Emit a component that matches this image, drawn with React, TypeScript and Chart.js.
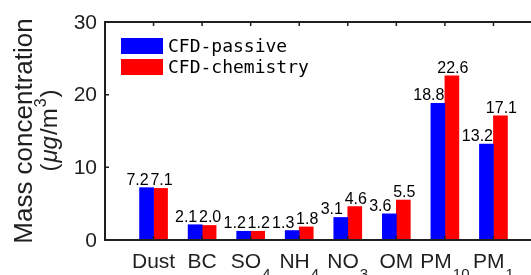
import { useEffect, useRef } from 'react';
import { Chart, registerables } from 'chart.js';

Chart.register(...registerables);

const categories = ['Dust', 'BC', 'SO', 'NH', 'NO', 'OM', 'PM', 'PM'];
const subscripts = ['', '', '4', '4', '3', '', '10', '1'];
const passive = [7.2, 2.1, 1.2, 1.3, 3.1, 3.6, 18.8, 13.2];
const chemistry = [7.1, 2.0, 1.2, 1.8, 4.6, 5.5, 22.6, 17.1];
const yTicks = [0, 10, 20, 30];
const seriesNames = ['CFD-passive', 'CFD-chemistry'];
const seriesColors = ['#0000FF', '#FF0000'];

const CANVAS_W = 560;
const CANVAS_H = 275;
const SANS = '"Liberation Sans", Arial, Helvetica, sans-serif';
const AXIS_COLOR = '#1f1f1f';

const decorPlugin = {
  id: 'decor',
  afterDatasetsDraw(chart: any) {
    const { ctx, chartArea: a, scales } = chart;
    const x = scales.x;
    const y = scales.y;
    ctx.save();

    // data labels
    ctx.font = `16px ${SANS}`;
    ctx.fillStyle = '#000';
    ctx.textAlign = 'center';
    ctx.textBaseline = 'alphabetic';
    chart.data.datasets.forEach((ds: any, di: number) => {
      const meta = chart.getDatasetMeta(di);
      meta.data.forEach((bar: any, i: number) => {
        const v = ds.data[i].y as number;
        const dx = di === 0 ? -9 : 1;
        ctx.fillText(v.toFixed(1), bar.x + dx, bar.y - 3);
      });
    });

    // axes box (left, top, bottom)
    ctx.strokeStyle = AXIS_COLOR;
    ctx.lineWidth = 2;
    ctx.beginPath();
    ctx.moveTo(a.right, a.top);
    ctx.lineTo(a.left, a.top);
    ctx.lineTo(a.left, a.bottom);
    ctx.lineTo(a.right, a.bottom);
    ctx.stroke();

    // tick marks
    ctx.lineWidth = 1.5;
    ctx.beginPath();
    categories.forEach((_, i) => {
      const px = x.getPixelForValue(i + 1);
      ctx.moveTo(px, a.top);
      ctx.lineTo(px, a.top + 4);
      ctx.moveTo(px, a.bottom);
      ctx.lineTo(px, a.bottom - 4);
    });
    yTicks.forEach((t) => {
      const py = y.getPixelForValue(t);
      ctx.moveTo(a.left, py);
      ctx.lineTo(a.left + 4, py);
    });
    ctx.stroke();

    // y tick labels
    ctx.fillStyle = AXIS_COLOR;
    ctx.font = `21px ${SANS}`;
    ctx.textAlign = 'right';
    ctx.textBaseline = 'middle';
    yTicks.forEach((t) => {
      ctx.fillText(String(t), a.left - 8, y.getPixelForValue(t) + 1);
    });

    // x labels with subscripts
    const mainFont = `21px ${SANS}`;
    const subFont = `15px ${SANS}`;
    ctx.textAlign = 'left';
    ctx.textBaseline = 'alphabetic';
    categories.forEach((c, i) => {
      const cx = x.getPixelForValue(i + 1);
      ctx.font = mainFont;
      const w1 = ctx.measureText(c).width;
      ctx.font = subFont;
      const sub = subscripts[i];
      const w2 = sub ? ctx.measureText(sub).width + 1 : 0;
      const start = cx - (w1 + w2) / 2;
      ctx.font = mainFont;
      ctx.fillText(c, start, 268);
      if (sub) {
        ctx.font = subFont;
        ctx.fillText(sub, start + w1 + 1, 279);
      }
    });

    // y title
    const cy = (a.top + a.bottom) / 2;
    ctx.save();
    ctx.translate(32, cy);
    ctx.rotate(-Math.PI / 2);
    ctx.textAlign = 'center';
    ctx.font = `26px ${SANS}`;
    ctx.fillText('Mass concentration', 0, 0);
    ctx.restore();

    ctx.save();
    ctx.translate(57, cy - 1);
    ctx.rotate(-Math.PI / 2);
    ctx.textAlign = 'left';
    const pieces: [string, string, number][] = [
      ['(', `24px ${SANS}`, 0],
      ['\u03bcg', `italic 24px ${SANS}`, 0],
      ['/m', `24px ${SANS}`, 0],
      ['3', `16px ${SANS}`, -11],
      [')', `24px ${SANS}`, 0],
    ];
    let total = 0;
    pieces.forEach(([t, f]) => {
      ctx.font = f;
      total += ctx.measureText(t).width + 1;
    });
    let px = -total / 2;
    pieces.forEach(([t, f, dy]) => {
      ctx.font = f;
      ctx.fillText(t, px, dy);
      px += ctx.measureText(t).width + 1;
    });
    ctx.restore();

    // legend
    const boxX = 121;
    const boxW = 42;
    const boxH = 16;
    const rows = [38, 59];
    ctx.font = `18px "DejaVu Sans Mono", monospace`;
    ctx.textAlign = 'left';
    ctx.textBaseline = 'middle';
    seriesNames.forEach((name, i) => {
      ctx.fillStyle = seriesColors[i];
      ctx.fillRect(boxX, rows[i], boxW, boxH);
      ctx.fillStyle = '#000';
      ctx.fillText(name, boxX + boxW + 5, rows[i] + boxH / 2 + 1);
    });

    ctx.restore();
  },
};

export default function App() {
  const ref = useRef<HTMLCanvasElement | null>(null);

  useEffect(() => {
    if (!ref.current) return;
    const chart = new Chart(ref.current, {
      type: 'bar',
      data: {
        datasets: [
          {
            label: seriesNames[0],
            data: passive.map((v, i) => ({ x: i + 1, y: v })),
            backgroundColor: seriesColors[0],
            borderWidth: 0,
            barThickness: 14,
          },
          {
            label: seriesNames[1],
            data: chemistry.map((v, i) => ({ x: i + 1, y: v })),
            backgroundColor: seriesColors[1],
            borderWidth: 0,
            barThickness: 14,
          },
        ],
      },
      options: {
        responsive: false,
        animation: false,
        devicePixelRatio: 1,
        layout: { padding: { left: 105, top: 22, right: CANVAS_W - 542, bottom: CANVAS_H - 240 } },
        plugins: { legend: { display: false }, tooltip: { enabled: false } },
        scales: {
          x: { type: 'linear', min: 0, max: 9, offset: false, display: false },
          y: { min: 0, max: 30, display: false },
        },
      } as any,
      plugins: [decorPlugin],
    });
    return () => chart.destroy();
  }, []);

  return (
    <div style={{ position: 'fixed', left: 0, top: 0, width: 531, height: 275, overflow: 'hidden', background: '#fff' }}>
      <canvas ref={ref} width={CANVAS_W} height={CANVAS_H} style={{ width: CANVAS_W, height: CANVAS_H, display: 'block' }} />
    </div>
  );
}
